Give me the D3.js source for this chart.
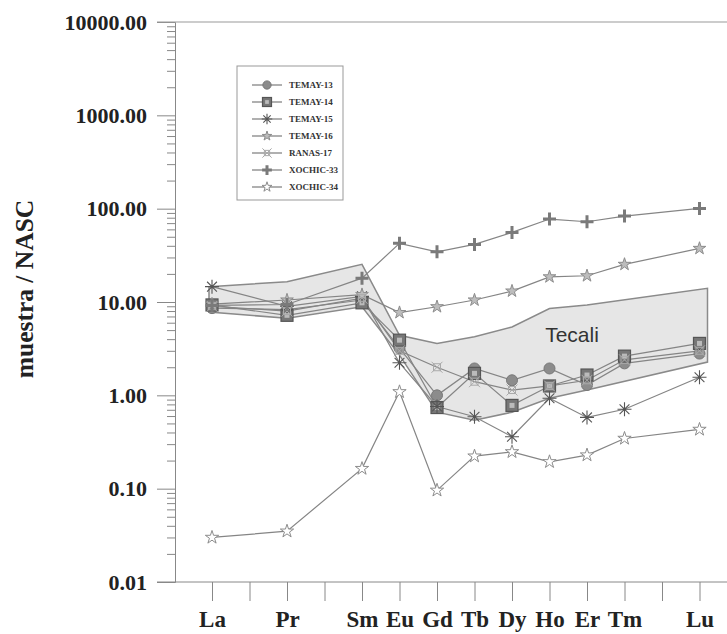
<!DOCTYPE html>
<html>
<head>
<meta charset="utf-8">
<script src="https://cdn.jsdelivr.net/npm/d3@7"></script>
<style>
  body { margin: 0; background: #fff; }
</style>
</head>
<body>
<div id="chart"></div>
<script>
// elementos (posiciones del eje x, con Ce, Nd, Yb sin etiqueta)
const elements = ["La", "Ce", "Pr", "Nd", "Sm", "Eu", "Gd", "Tb", "Dy", "Ho", "Er", "Tm", "Yb", "Lu"];
const labeled = ["La", "Pr", "Sm", "Eu", "Gd", "Tb", "Dy", "Ho", "Er", "Tm", "Lu"];
const yTicks = [0.01, 0.1, 1, 10, 100, 1000, 10000];

// muestra / NASC, orden = labeled
const temay13 = [8.6, 8.3, 10.5, 3.2, 1.0, 1.94, 1.45, 1.94, 1.29, 2.2, 2.8];
const temay14 = [9.3, 7.2, 9.8, 3.9, 0.74, 1.72, 0.78, 1.26, 1.65, 2.63, 3.6];
const temay15 = [14.6, 9.0, 11.5, 2.23, 0.76, 0.59, 0.36, 0.93, 0.58, 0.71, 1.56];
const temay16 = [9.5, 10.5, 12.0, 7.7, 8.9, 10.5, 13.1, 18.6, 19.1, 25.3, 37.5];
const ranas17 = [9.0, 8.0, 11.0, 3.0, 2.0, 1.4, 1.14, 1.26, 1.45, 2.4, 3.0];
const xochic33 = [9.2, 9.4, 18.0, 42.5, 34.5, 41.4, 55.7, 77.4, 72.4, 83.3, 100.7];
const xochic34 = [0.030, 0.035, 0.164, 1.09, 0.096, 0.223, 0.248, 0.194, 0.229, 0.345, 0.431];

// campo Tecali (envolvente)
const tecaliEls = ["La", "Pr", "Sm", "Eu", "Gd", "Tb", "Dy", "Ho", "Er", "Lu"];
const tecaliTop = [14.6, 16.5, 25.3, 4.4, 3.6, 4.24, 5.4, 8.5, 9.3, 14.0];
const tecaliBot = [7.8, 6.7, 8.9, 2.7, 0.66, 0.54, 0.66, 0.93, 1.14, 2.27];

const series = [
  { name: "TEMAY-13", values: temay13, mark: "circle" },
  { name: "TEMAY-14", values: temay14, mark: "square" },
  { name: "TEMAY-15", values: temay15, mark: "asterisk" },
  { name: "TEMAY-16", values: temay16, mark: "star" },
  { name: "RANAS-17", values: ranas17, mark: "xsquare" },
  { name: "XOCHIC-33", values: xochic33, mark: "plus" },
  { name: "XOCHIC-34", values: xochic34, mark: "openstar" }
];

const width = 727, height = 634;
const lineCol = "#858585";
const serif = "'Liberation Serif', 'DejaVu Serif', serif";

const svg = d3.select("#chart").append("svg")
  .attr("width", width)
  .attr("height", height);

const x = d3.scalePoint().domain(elements).range([212, 699.5]);
const y = d3.scaleLog().domain([0.01, 10000]).range([582, 22]);

// campo Tecali
const edge = 8;
const poly = [];
tecaliEls.forEach((e, i) => {
  let px = x(e);
  if (i === 0) px -= 3;
  if (i === tecaliEls.length - 1) px += edge;
  poly.push([px, y(tecaliTop[i])]);
});
for (let i = tecaliEls.length - 1; i >= 0; i--) {
  let px = x(tecaliEls[i]);
  if (i === 0) px -= 3;
  if (i === tecaliEls.length - 1) px += edge;
  poly.push([px, y(tecaliBot[i])]);
}
svg.append("path")
  .attr("d", d3.line()(poly) + "Z")
  .attr("fill", "#e6e6e6")
  .attr("stroke", "#8a8a8a")
  .attr("stroke-width", 1.5);

svg.append("text")
  .attr("x", 572)
  .attr("y", 342)
  .attr("text-anchor", "middle")
  .attr("font-family", "'Liberation Sans', Arial, sans-serif")
  .attr("font-size", 21)
  .attr("fill", "#333")
  .text("Tecali");

// ejes
const yAxis = svg.append("g")
  .attr("transform", "translate(175,0)")
  .call(d3.axisLeft(y).tickValues(yTicks).tickSize(18).tickPadding(10)
    .tickFormat(d3.format(".2f")));
const minor = [];
yTicks.slice(0, -1).forEach(d => { for (let k = 2; k <= 9; k++) minor.push(d * k); });
svg.append("g")
  .attr("transform", "translate(175,0)")
  .call(d3.axisLeft(y).tickValues(minor).tickSize(8).tickFormat(""))
  .call(g => g.select(".domain").remove());

yAxis.selectAll("text")
  .attr("font-family", serif)
  .attr("font-weight", "bold")
  .attr("font-size", 22)
  .attr("fill", "#222");

const xAxis = svg.append("g")
  .attr("transform", "translate(0,582)")
  .call(d3.axisBottom(x).tickSize(19)
    .tickFormat(d => labeled.includes(d) ? d : ""));
xAxis.select(".domain").remove();
xAxis.selectAll("text")
  .attr("y", 45)
  .attr("dy", 0)
  .attr("font-family", serif)
  .attr("font-weight", "bold")
  .attr("font-size", 23)
  .attr("fill", "#222");

svg.selectAll(".tick line").attr("stroke", "#888");
svg.selectAll(".domain").attr("stroke", "#888");

// marco: linea inferior y superior
svg.append("line").attr("x1", 157).attr("x2", width).attr("y1", y(0.01)).attr("y2", y(0.01))
  .attr("stroke", "#888");
svg.append("line").attr("x1", 157).attr("x2", width).attr("y1", y(10000)).attr("y2", y(10000))
  .attr("stroke", "#999").attr("stroke-width", 1.2);

svg.append("text")
  .attr("transform", "translate(33,289) rotate(-90)")
  .attr("text-anchor", "middle")
  .attr("font-family", serif)
  .attr("font-weight", "bold")
  .attr("font-size", 25.5)
  .attr("fill", "#222")
  .text("muestra / NASC");

// marcadores
function drawMark(g, mark, s) {
  s = s || 1;
  if (mark === "circle") {
    g.append("circle").attr("r", 5.5 * s).attr("fill", "#8c8c8c").attr("stroke", "#777");
  } else if (mark === "square") {
    g.append("rect").attr("x", -6 * s).attr("y", -6 * s).attr("width", 12 * s).attr("height", 12 * s)
      .attr("fill", "#777").attr("stroke", "#555").attr("stroke-width", 1.2);
    g.append("rect").attr("x", -2.5 * s).attr("y", -2.5 * s).attr("width", 5 * s).attr("height", 5 * s)
      .attr("fill", "#bbb");
  } else if (mark === "asterisk") {
    const r = 7 * s;
    g.append("path")
      .attr("d", `M${-r},0L${r},0M0,${-r}L0,${r}M${-r * .7},${-r * .7}L${r * .7},${r * .7}M${-r * .7},${r * .7}L${r * .7},${-r * .7}`)
      .attr("stroke", "#555").attr("stroke-width", 1.1);
  } else if (mark === "star") {
    g.append("path").attr("d", d3.symbol(d3.symbolStar, 50 * s * s)())
      .attr("fill", "#bdbdbd").attr("stroke", "#8c8c8c");
  } else if (mark === "openstar") {
    g.append("path").attr("d", d3.symbol(d3.symbolStar, 55 * s * s)())
      .attr("fill", "#fff").attr("stroke", "#8c8c8c");
  } else if (mark === "xsquare") {
    const r = 3.5 * s;
    g.append("rect").attr("x", -r).attr("y", -r).attr("width", 2 * r).attr("height", 2 * r)
      .attr("fill", "none").attr("stroke", "#aaa");
    g.append("path").attr("d", `M${-r - 2},${-r - 2}L${r + 2},${r + 2}M${-r - 2},${r + 2}L${r + 2},${-r - 2}`)
      .attr("stroke", "#aaa");
  } else if (mark === "plus") {
    const r = 6.5 * s;
    g.append("path").attr("d", `M${-r},0L${r},0M0,${-r}L0,${r}`)
      .attr("stroke", "#7a7a7a").attr("stroke-width", 3);
  }
}

const line = d3.line()
  .x((d, i) => x(labeled[i]))
  .y(d => y(d));

series.forEach(sr => {
  svg.append("path")
    .attr("d", line(sr.values))
    .attr("fill", "none")
    .attr("stroke", lineCol)
    .attr("stroke-width", 1.2);
});
series.forEach(sr => {
  sr.values.forEach((v, i) => {
    const g = svg.append("g").attr("transform", `translate(${x(labeled[i])},${y(v)})`);
    drawMark(g, sr.mark);
  });
});

// leyenda
const leg = svg.append("g");
leg.append("rect")
  .attr("x", 237).attr("y", 66).attr("width", 106).attr("height", 134)
  .attr("fill", "#fff").attr("stroke", "#999");
series.forEach((sr, i) => {
  const ly = 85 + i * 17;
  leg.append("line").attr("x1", 252).attr("x2", 282).attr("y1", ly).attr("y2", ly)
    .attr("stroke", lineCol).attr("stroke-width", 1.3);
  drawMark(leg.append("g").attr("transform", `translate(267,${ly})`), sr.mark, 0.75);
  leg.append("text")
    .attr("x", 289).attr("y", ly + 3)
    .attr("font-family", serif)
    .attr("font-weight", "bold")
    .attr("font-size", 9)
    .attr("fill", "#333")
    .text(sr.name);
});
</script>
</body>
</html>
